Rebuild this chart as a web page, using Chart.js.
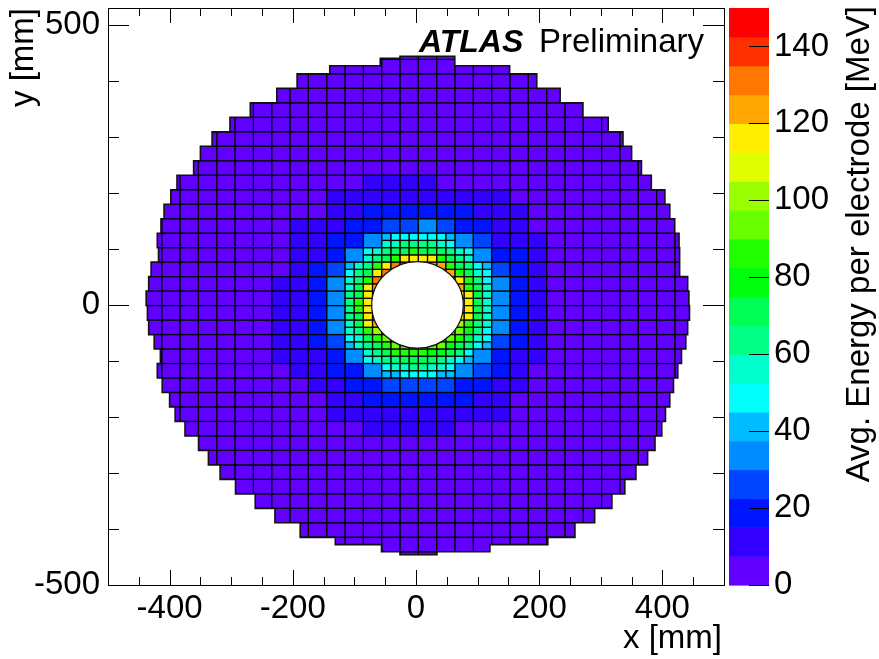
<!DOCTYPE html>
<html>
<head>
<meta charset="utf-8">
<script src="https://cdn.jsdelivr.net/npm/chart.js@4.4.1/dist/chart.umd.min.js"></script>
<style>
  html, body { margin: 0; padding: 0; background: #fff; }
</style>
</head>
<body>
<canvas id="heat" width="879" height="659"></canvas>
<script>
// FCal tile grid in mm: tile size and the edge of tile column 0 / row 0
const tileW = 29.75, tileH = 25.85;
const tileX0 = 3.8, tileY0 = -1.25;
const colFirst = -15, rowFirst = 17;

// colour band per tile (0-9, a-j = band 0..19), '*' = split into half tiles
const coarseRows = [
  '000000000000000000000000000000',
  '000000000000000000000000000000',
  '000000000000000000000000000000',
  '000000000000000000000000000000',
  '000000000000000000000000000000',
  '000000000000000000000000000000',
  '000000000000000000000000000000',
  '000000000000000000000000000000',
  '000000000000000000000000000000',
  '000000000000111100000000000000',
  '000000000011111111110000000000',
  '000000000011222222111000000000',
  '000000001112233432211000000000',
  '0000000011224****4311100000000',
  '000000001124******422100000000',
  '00000000123********32100000000',
  '00000001124********42100000000',
  '00000001124********42100000000',
  '00000001124********42100000000',
  '00000001124********42100000000',
  '00000001123********32100000000',
  '000000011124******421100000000',
  '0000000011224****4321000000000',
  '000000000112233332211000000000',
  '000000000011222222110000000000',
  '000000000011111111110000000000',
  '000000000000111110000000000000',
  '000000000000000000000000000000',
  '000000000000000000000000000000',
  '000000000000000000000000000000',
  '000000000000000000000000000000',
  '000000000000000000000000000000',
  '000000000000000000000000000000',
  '000000000000000000000000000000',
  '000000000000000000000000000000',
  '000000000000000000000000000000'
];

// half tiles around the beam hole, ' ' = hole, '.' = coarse tile
const halfColFirst = -8, halfRowFirst = 9;
const halfRows = [
  '....56666665....',
  '....77888876....',
  '..67899b999876..',
  '..789bffffb987..',
  '578bfhihgggb9865',
  '689fhh    ggb976',
  '78bhh      gfb86',
  '79fg        gb97',
  '89fg        ff97',
  '8bf         ff97',
  '8bf         ff97',
  '89fg        ff97',
  '79fg        db87',
  '78bdd      dca86',
  '679bcc    ccb976',
  '5789bcccccca9865',
  '..789bbbbaa986..',
  '..678899998765..',
  '....67788776....',
  '....55666655....'
];

// beam hole (mm)
const holeX = 2.4, holeY = 0, holeRX = 74.3, holeRY = 77.3;

// detector outline: band edges in y and the x extent of each band (mm)
const outlineY = [444, 440, 427, 412.4, 386.5, 360.7, 334.8, 309, 283.1, 257.3, 231.4, 205.6,
  179.7, 153.9, 128, 102.2, 76.3, 50.5, 24.6, -1.25, -27.1, -53, -78.8, -104.7, -130.5,
  -156.4, -182.2, -208.1, -233.9, -259.8, -285.6, -311.5, -337.3, -363.2, -389, -414.9,
  -428, -440.7, -446];
const outlineL = [-26, -58, -140, -193, -226, -269, -302, -331, -350, -361, -388, -398, -409,
  -414, -420, -418, -430, -434, -438, -436, -434, -425, -415, -420, -412, -400, -391, -375,
  -353, -337, -318, -293, -261, -229, -188, -131, -56, -26];
const outlineR = [63, 63, 152, 196, 234, 271, 312, 336, 350, 366, 382, 404, 412, 420, 427,
  428, 428, 441, 443, 444, 441, 438, 431, 425, 418, 412, 405, 399, 388, 376, 357, 339, 318,
  290, 258, 214, 120, 34];

const zMax = 150;
const bandColors = ['#6200ff', '#3300ff', '#0014ff', '#0044ff', '#008bff', '#00bbff',
  '#00fffc', '#00ffcc', '#00ff85', '#00ff55', '#00ff0e', '#22ff00', '#69ff00', '#99ff00',
  '#e0ff00', '#ffee00', '#ffa700', '#ff7700', '#ff3000', '#ff0000'];

const xTicks = [-400, -200, 0, 200, 400];
const yTicks = [-500, 0, 500];
const zTicks = [0, 20, 40, 60, 80, 100, 120, 140];

const FONT = '"Liberation Sans", Arial, Helvetica, sans-serif';

// build the cell list from the tile strings
const cells = [];
coarseRows.forEach((row, i) => {
  const r = rowFirst - i;
  [...row].forEach((ch, j) => {
    if (ch === '*' || ch === '.' || ch === ' ') return;
    const c = colFirst + j;
    cells.push({ x0: tileX0 + c * tileW, x1: tileX0 + (c + 1) * tileW,
                 y0: tileY0 + r * tileH, y1: tileY0 + (r + 1) * tileH, band: parseInt(ch, 36) });
  });
});
halfRows.forEach((row, i) => {
  const r = halfRowFirst - i;
  [...row].forEach((ch, j) => {
    if (ch === '.' || ch === ' ') return;
    const c = halfColFirst + j;
    cells.push({ x0: tileX0 + c * tileW / 2, x1: tileX0 + (c + 1) * tileW / 2,
                 y0: tileY0 + r * tileH / 2, y1: tileY0 + (r + 1) * tileH / 2, band: parseInt(ch, 36) });
  });
});

function outlinePath(x, y) {
  const p = new Path2D();
  const n = outlineL.length;
  p.moveTo(x.getPixelForValue(outlineL[0]), y.getPixelForValue(outlineY[0]));
  for (let i = 0; i < n; i++) {
    p.lineTo(x.getPixelForValue(outlineL[i]), y.getPixelForValue(outlineY[i]));
    p.lineTo(x.getPixelForValue(outlineL[i]), y.getPixelForValue(outlineY[i + 1]));
  }
  for (let i = n - 1; i >= 0; i--) {
    p.lineTo(x.getPixelForValue(outlineR[i]), y.getPixelForValue(outlineY[i + 1]));
    p.lineTo(x.getPixelForValue(outlineR[i]), y.getPixelForValue(outlineY[i]));
  }
  p.closePath();
  return p;
}

const heatPlugin = {
  id: 'heat',
  beforeDatasetsDraw(chart) {
    const { ctx, scales: { x, y } } = chart;
    const disc = outlinePath(x, y);
    ctx.save();
    ctx.clip(disc);
    cells.forEach(c => {
      const l = x.getPixelForValue(c.x0), r = x.getPixelForValue(c.x1);
      const t = y.getPixelForValue(c.y1), b = y.getPixelForValue(c.y0);
      ctx.fillStyle = bandColors[c.band];
      ctx.fillRect(l, t, r - l, b - t);
    });
    ctx.strokeStyle = 'rgba(0,0,0,0.85)';
    ctx.lineWidth = 1.2;
    cells.forEach(c => {
      const l = x.getPixelForValue(c.x0), r = x.getPixelForValue(c.x1);
      const t = y.getPixelForValue(c.y1), b = y.getPixelForValue(c.y0);
      ctx.strokeRect(l, t, r - l, b - t);
    });
    ctx.restore();

    // beam hole
    ctx.save();
    const cx = x.getPixelForValue(holeX), cy = y.getPixelForValue(holeY);
    const rx = x.getPixelForValue(holeX + holeRX) - cx;
    const ry = cy - y.getPixelForValue(holeY + holeRY);
    ctx.beginPath();
    ctx.ellipse(cx, cy, rx, ry, 0, 0, Math.PI * 2);
    ctx.fillStyle = '#fff';
    ctx.fill();
    ctx.strokeStyle = '#111';
    ctx.lineWidth = 1.2;
    ctx.stroke();
    // outer edge
    ctx.strokeStyle = '#111';
    ctx.lineWidth = 1.6;
    ctx.stroke(disc);
    ctx.restore();
  }
};

const framePlugin = {
  id: 'frame',
  afterDraw(chart) {
    const { ctx, chartArea: a, scales: { x, y, z } } = chart;
    ctx.save();
    ctx.strokeStyle = '#000';
    ctx.lineWidth = 1;
    ctx.strokeRect(a.left + 0.5, a.top + 0.5, a.right - a.left, a.bottom - a.top);

    ctx.beginPath();
    for (let v = x.min; v <= x.max; v += 50) {
      const p = Math.round(x.getPixelForValue(v)) + 0.5;
      const len = v % 200 === 0 ? 15 : 8;
      ctx.moveTo(p, a.bottom); ctx.lineTo(p, a.bottom - len);
      ctx.moveTo(p, a.top); ctx.lineTo(p, a.top + len);
    }
    for (let v = -500; v <= y.max; v += 100) {
      const p = Math.round(y.getPixelForValue(v)) + 0.5;
      const len = v % 500 === 0 ? 21 : 11;
      ctx.moveTo(a.left, p); ctx.lineTo(a.left + len, p);
      ctx.moveTo(a.right, p); ctx.lineTo(a.right - len, p);
    }
    ctx.stroke();

    // colour scale
    const bx0 = a.right + 5, bx1 = a.right + 45;
    const step = zMax / bandColors.length;
    bandColors.forEach((col, k) => {
      const t = z.getPixelForValue((k + 1) * step), b = z.getPixelForValue(k * step);
      ctx.fillStyle = col;
      ctx.fillRect(bx0, t, bx1 - bx0, b - t + 0.6);
    });
    ctx.beginPath();
    zTicks.forEach(v => {
      const p = Math.round(z.getPixelForValue(v)) + 0.5;
      ctx.moveTo(bx1, p); ctx.lineTo(bx1 - 20, p);
    });
    ctx.stroke();

    // texts
    ctx.fillStyle = '#000';
    ctx.font = '33px ' + FONT;
    ctx.textAlign = 'right';
    ctx.textBaseline = 'alphabetic';
    ctx.fillText('x [mm]', a.right - 2, 648);

    ctx.save();
    ctx.translate(33, a.top);
    ctx.rotate(-Math.PI / 2);
    ctx.fillText('y [mm]', 0, 0);
    ctx.restore();

    ctx.save();
    ctx.translate(869, a.top - 2);
    ctx.rotate(-Math.PI / 2);
    ctx.fillText('Avg. Energy per electrode [MeV]', 0, 0);
    ctx.restore();

    ctx.textAlign = 'left';
    ctx.font = 'italic bold 32px ' + FONT;
    ctx.fillText('ATLAS', a.left + 311, a.top + 44);
    ctx.font = '33px ' + FONT;
    ctx.fillText('Preliminary', a.left + 431, a.top + 44);
    ctx.restore();
  }
};

const tickFont = { family: FONT, size: 33 };
const noPad = s => { s.paddingTop = 0; s.paddingBottom = 0; s.paddingLeft = 0; s.paddingRight = 0; };

new Chart(document.getElementById('heat'), {
  type: 'scatter',
  data: { datasets: [{ data: [], xAxisID: 'x', yAxisID: 'y' }] },
  options: {
    responsive: false,
    animation: false,
    devicePixelRatio: 1,
    layout: { autoPadding: false, padding: { top: 8, left: 0, right: 0, bottom: 0 } },
    plugins: { legend: { display: false }, tooltip: { enabled: false } },
    scales: {
      x: {
        type: 'linear', position: 'bottom', min: -500, max: 500,
        grid: { display: false, drawTicks: false }, border: { display: false },
        ticks: { font: tickFont, color: '#000', padding: 4, maxRotation: 0, autoSkip: false },
        afterBuildTicks: s => { s.ticks = xTicks.map(v => ({ value: v })); },
        afterFit: s => { s.height = 74; noPad(s); }
      },
      y: {
        type: 'linear', position: 'left', min: -500, max: 530,
        grid: { display: false, drawTicks: false }, border: { display: false },
        ticks: { font: tickFont, color: '#000', padding: 8, autoSkip: false },
        afterBuildTicks: s => { s.ticks = yTicks.map(v => ({ value: v })); },
        afterFit: s => { s.width = 108; noPad(s); }
      },
      z: {
        type: 'linear', position: 'right', min: 0, max: zMax,
        grid: { display: false, drawTicks: false }, border: { display: false },
        ticks: { font: tickFont, color: '#000', padding: 50, autoSkip: false },
        afterBuildTicks: s => { s.ticks = zTicks.map(v => ({ value: v })); },
        afterFit: s => { s.width = 155; noPad(s); }
      }
    }
  },
  plugins: [heatPlugin, framePlugin]
});
</script>
</body>
</html>
